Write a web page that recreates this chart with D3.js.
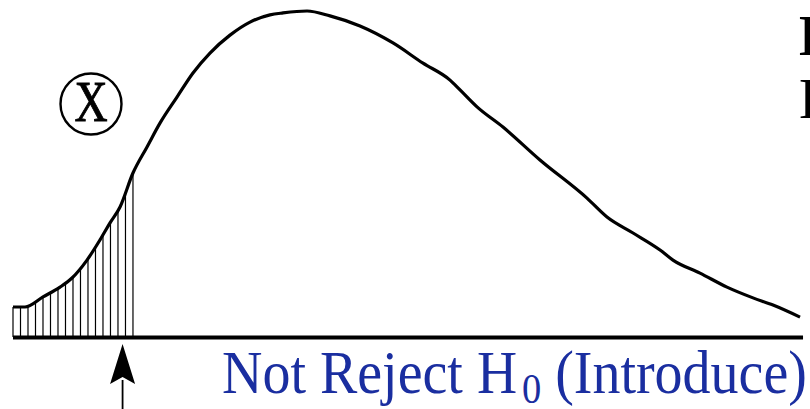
<!DOCTYPE html>
<html>
<head>
<meta charset="utf-8">
<script src="https://cdn.jsdelivr.net/npm/d3@7"></script>
<style>
  html, body { margin: 0; padding: 0; background: #fff; }
  svg { display: block; }
</style>
</head>
<body>
<svg id="chart" width="810" height="409"></svg>
<script>
// Sampling distribution of the test statistic (relative density)
const statValues = [0, 1.51, 3.78, 5.92, 7.43, 9.32, 10.96, 12.22, 13.48, 15.11, 16.88, 18.51,
  20.65, 22.67, 24.81, 27.33, 29.85, 32.37, 34.01, 37.03, 39.92, 43.70, 47.86, 51.64, 55.04,
  56.30, 58.44, 61.71, 66.37, 72.29, 74.81, 78.09, 81.49, 83.12, 86.52, 89.92, 93.20, 95.72, 99.12];
const densityValues = [0.092, 0.092, 0.123, 0.153, 0.181, 0.236, 0.298, 0.350, 0.399, 0.503, 0.583, 0.656,
  0.736, 0.810, 0.871, 0.926, 0.966, 0.988, 0.994, 1.000, 0.985, 0.954, 0.902, 0.840, 0.788,
  0.758, 0.706, 0.644, 0.543, 0.426, 0.368, 0.319, 0.267, 0.236, 0.196, 0.153, 0.120, 0.098, 0.061];

// Rejection region (left tail) and the observed statistic
const criticalValue = 15.11;
const hatchCount = 17;
const observedValue = 13.8;

// Labels
const regionLabel = ["Not Reject H", "0", " (Introduce)"];
const markerLabel = "X";
const sideLabels = ["H", "H"];

const svg = d3.select("#chart");
const x = d3.scaleLinear().domain([0, 100]).range([13, 807]);
const y = d3.scaleLinear().domain([0, 1]).range([337, 11]);

const pts = statValues.map((v, i) => [v, densityValues[i]]);

// linear interpolation of the density at a given statistic value
function densityAt(v) {
  const i = d3.bisector(d => d[0]).right(pts, v);
  if (i <= 0) return pts[0][1];
  if (i >= pts.length) return pts[pts.length - 1][1];
  const a = pts[i - 1], b = pts[i];
  const t = (v - a[0]) / (b[0] - a[0]);
  return a[1] + t * (b[1] - a[1]);
}

// hatching of the rejection region
const hatchX = d3.range(hatchCount).map(i => criticalValue * i / (hatchCount - 1));
svg.append("g")
  .selectAll("line")
  .data(hatchX)
  .join("line")
  .attr("x1", d => x(d)).attr("x2", d => x(d))
  .attr("y1", y(0)).attr("y2", d => y(densityAt(d)))
  .attr("stroke", "#000").attr("stroke-width", 1.2);

// density curve
const line = d3.line()
  .x(d => x(d[0])).y(d => y(d[1]))
  .curve(d3.curveMonotoneX);
svg.append("path")
  .datum(pts)
  .attr("d", line)
  .attr("fill", "none")
  .attr("stroke", "#000")
  .attr("stroke-width", 3.2)
  .attr("stroke-linejoin", "round");

// horizontal axis line
svg.append("line")
  .attr("x1", x(0)).attr("x2", x(99.5))
  .attr("y1", y(0) + 0.5).attr("y2", y(0) + 0.5)
  .attr("stroke", "#000").attr("stroke-width", 4);

// arrow pointing at the observed statistic
const ax = x(observedValue);
svg.append("line")
  .attr("x1", ax).attr("x2", ax)
  .attr("y1", 380).attr("y2", 409)
  .attr("stroke", "#000").attr("stroke-width", 1.8);
svg.append("path")
  .attr("d", `M${ax},344 L${ax + 12.5},384 L${ax},377 L${ax - 12.5},384 Z`)
  .attr("fill", "#000");

// circled marker
svg.append("circle")
  .attr("cx", 91).attr("cy", 104).attr("r", 30.5)
  .attr("fill", "none").attr("stroke", "#000").attr("stroke-width", 2.4);
svg.append("text")
  .attr("x", 91).attr("y", 121)
  .attr("text-anchor", "middle")
  .attr("font-family", "Liberation Serif, serif")
  .attr("font-size", 56)
  .attr("stroke", "#000").attr("stroke-width", 0.9)
  .attr("transform", "translate(91,0) scale(0.82,1) translate(-91,0)")
  .text(markerLabel);

// side labels (cut by the right edge)
svg.append("text")
  .attr("x", 799).attr("y", 55)
  .attr("font-family", "Liberation Serif, serif")
  .attr("font-weight", "bold")
  .attr("font-size", 56)
  .text(sideLabels[0]);
svg.append("text")
  .attr("x", 799).attr("y", 118)
  .attr("font-family", "Liberation Serif, serif")
  .attr("font-size", 56)
  .text(sideLabels[1]);

// region label, squeezed to fit between the arrow and the right edge
const lblX = 222, lblRight = 807;
const lbl = svg.append("text")
  .attr("x", lblX).attr("y", 393)
  .attr("font-family", "Liberation Serif, serif")
  .attr("font-size", 61)
  .attr("fill", "#1a2ea0");
lbl.append("tspan").text(regionLabel[0]);
lbl.append("tspan").attr("dx", 5).attr("dy", 10).attr("font-size", 42).text(regionLabel[1]);
lbl.append("tspan").attr("dy", -10).text(regionLabel[2]);
const w = lbl.node().getBBox().width;
const sx = Math.min(1, (lblRight - lblX) / w);
lbl.attr("transform", `translate(${lblX},0) scale(${sx},1) translate(${-lblX},0)`);
</script>
</body>
</html>
